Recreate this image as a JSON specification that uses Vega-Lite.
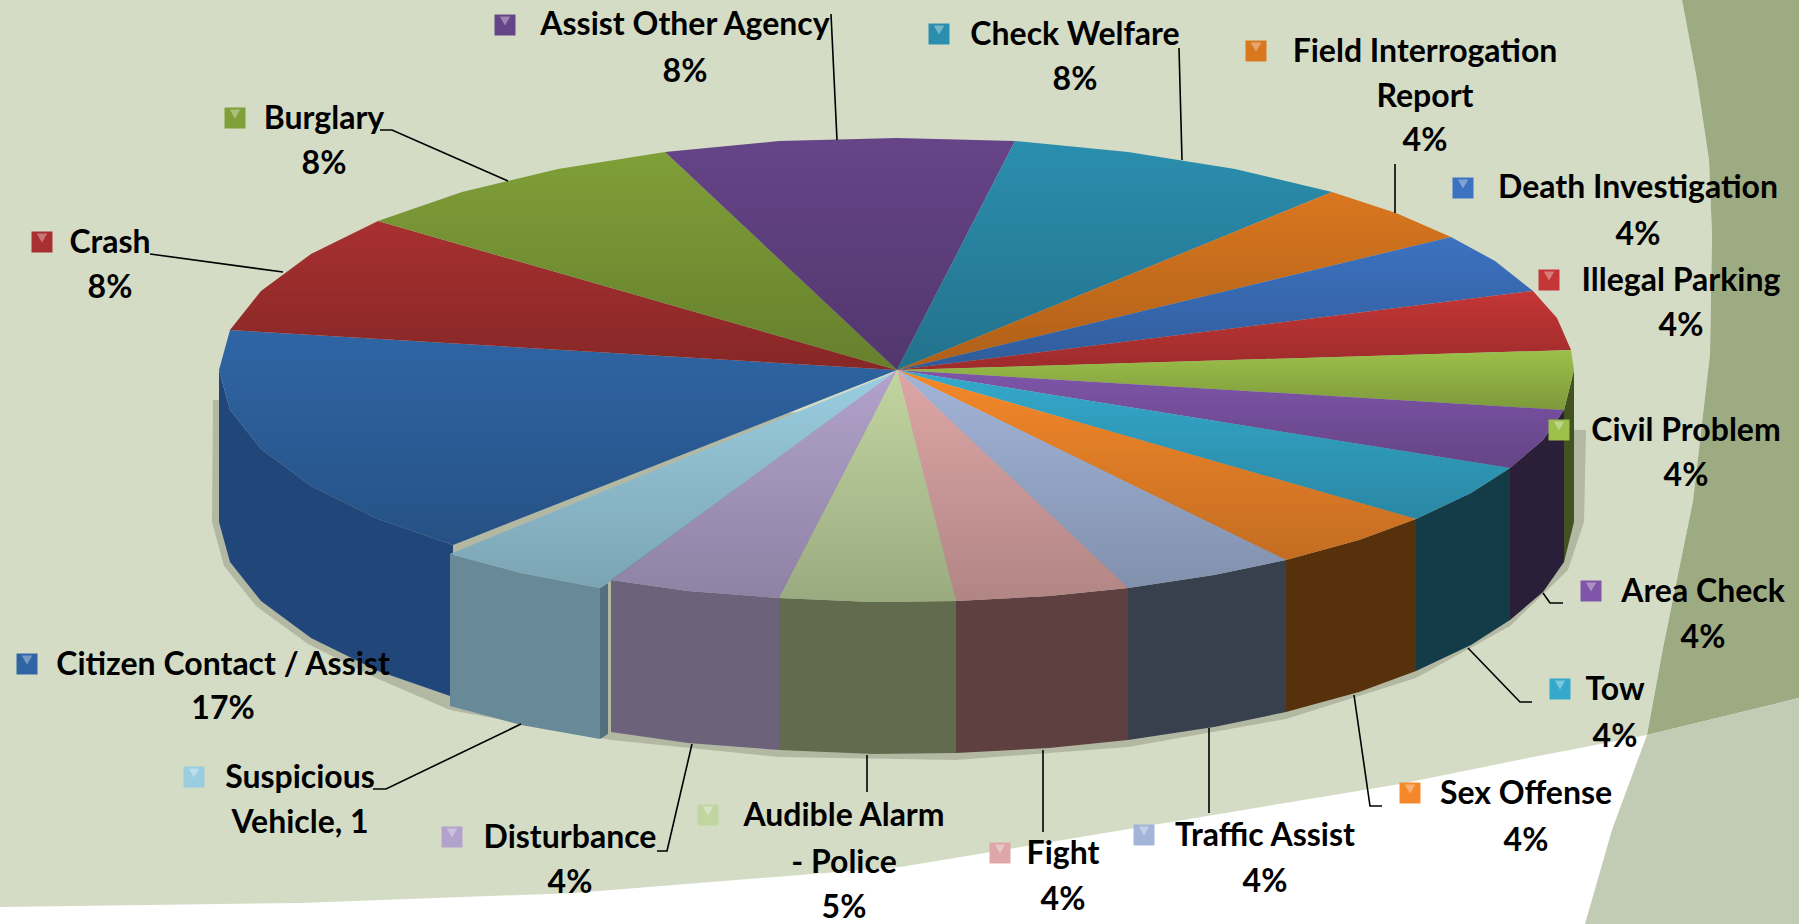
{"$schema":"https://vega.github.io/schema/vega-lite/v6.json","width":1813,"height":924,"padding":0,"autosize":{"type":"none"},"background":"#ffffff","view":{"stroke":null},
"datasets":{
"backdrop":[
{"part":"panel","i":0,"x":0,"y":0},{"part":"panel","i":1,"x":1682,"y":0},{"part":"panel","i":2,"x":1697,"y":80},{"part":"panel","i":3,"x":1709,"y":160},{"part":"panel","i":4,"x":1712,"y":236},{"part":"panel","i":5,"x":1710,"y":354},{"part":"panel","i":6,"x":1693,"y":501},{"part":"panel","i":7,"x":1663,"y":648},{"part":"panel","i":8,"x":1647,"y":735},{"part":"panel","i":9,"x":1533,"y":757},{"part":"panel","i":10,"x":1400,"y":784},{"part":"panel","i":11,"x":900,"y":867},{"part":"panel","i":12,"x":574,"y":893},{"part":"panel","i":13,"x":300,"y":903},{"part":"panel","i":14,"x":0,"y":907},
{"part":"dark","i":0,"x":1682,"y":0},{"part":"dark","i":1,"x":1799,"y":0},{"part":"dark","i":2,"x":1799,"y":698},{"part":"dark","i":3,"x":1647,"y":735},{"part":"dark","i":4,"x":1663,"y":648},{"part":"dark","i":5,"x":1693,"y":501},{"part":"dark","i":6,"x":1710,"y":354},{"part":"dark","i":7,"x":1712,"y":236},{"part":"dark","i":8,"x":1709,"y":160},{"part":"dark","i":9,"x":1697,"y":80},
{"part":"light","i":0,"x":1647,"y":735},{"part":"light","i":1,"x":1799,"y":698},{"part":"light","i":2,"x":1799,"y":924},{"part":"light","i":3,"x":1585,"y":924},{"part":"light","i":4,"x":1612,"y":830},
{"part":"shadow","i":0,"x":213,"y":400},{"part":"shadow","i":1,"x":212,"y":522},{"part":"shadow","i":2,"x":224,"y":566},{"part":"shadow","i":3,"x":256,"y":606},{"part":"shadow","i":4,"x":308,"y":644},{"part":"shadow","i":5,"x":376,"y":678},{"part":"shadow","i":6,"x":450,"y":710},{"part":"shadow","i":7,"x":611,"y":740},{"part":"shadow","i":8,"x":779,"y":757},{"part":"shadow","i":9,"x":956,"y":760},{"part":"shadow","i":10,"x":1128,"y":747},{"part":"shadow","i":11,"x":1286,"y":719},{"part":"shadow","i":12,"x":1416,"y":678},{"part":"shadow","i":13,"x":1510,"y":626},{"part":"shadow","i":14,"x":1568,"y":570},{"part":"shadow","i":15,"x":1584,"y":522},{"part":"shadow","i":16,"x":1586,"y":430}
],
"sides":[
{"part":"Civil Problem side","i":0,"x":1574,"y":370},{"part":"Civil Problem side","i":1,"x":1564,"y":410},{"part":"Civil Problem side","i":2,"x":1564,"y":562},{"part":"Civil Problem side","i":3,"x":1574,"y":522},
{"part":"Area Check side","i":0,"x":1564,"y":410},{"part":"Area Check side","i":1,"x":1543,"y":440},{"part":"Area Check side","i":2,"x":1510,"y":468},{"part":"Area Check side","i":3,"x":1510,"y":620},{"part":"Area Check side","i":4,"x":1543,"y":592},{"part":"Area Check side","i":5,"x":1564,"y":562},
{"part":"Tow side","i":0,"x":1510,"y":468},{"part":"Tow side","i":1,"x":1471,"y":493},{"part":"Tow side","i":2,"x":1416,"y":519},{"part":"Tow side","i":3,"x":1416,"y":671},{"part":"Tow side","i":4,"x":1471,"y":645},{"part":"Tow side","i":5,"x":1510,"y":620},
{"part":"Sex Offense side","i":0,"x":1416,"y":519},{"part":"Sex Offense side","i":1,"x":1359,"y":540},{"part":"Sex Offense side","i":2,"x":1286,"y":560},{"part":"Sex Offense side","i":3,"x":1286,"y":712},{"part":"Sex Offense side","i":4,"x":1359,"y":692},{"part":"Sex Offense side","i":5,"x":1416,"y":671},
{"part":"Traffic Assist side","i":0,"x":1286,"y":560},{"part":"Traffic Assist side","i":1,"x":1214,"y":575},{"part":"Traffic Assist side","i":2,"x":1128,"y":588},{"part":"Traffic Assist side","i":3,"x":1128,"y":740},{"part":"Traffic Assist side","i":4,"x":1214,"y":727},{"part":"Traffic Assist side","i":5,"x":1286,"y":712},
{"part":"Fight side","i":0,"x":1128,"y":588},{"part":"Fight side","i":1,"x":1049,"y":596},{"part":"Fight side","i":2,"x":956,"y":601},{"part":"Fight side","i":3,"x":956,"y":753},{"part":"Fight side","i":4,"x":1049,"y":748},{"part":"Fight side","i":5,"x":1128,"y":740},
{"part":"Audible Alarm side","i":0,"x":956,"y":601},{"part":"Audible Alarm side","i":1,"x":873,"y":602},{"part":"Audible Alarm side","i":2,"x":779,"y":598},{"part":"Audible Alarm side","i":3,"x":779,"y":750},{"part":"Audible Alarm side","i":4,"x":873,"y":754},{"part":"Audible Alarm side","i":5,"x":956,"y":753},
{"part":"Disturbance side","i":0,"x":779,"y":598},{"part":"Disturbance side","i":1,"x":688,"y":591},{"part":"Disturbance side","i":2,"x":611,"y":580},{"part":"Disturbance side","i":3,"x":611,"y":732},{"part":"Disturbance side","i":4,"x":688,"y":743},{"part":"Disturbance side","i":5,"x":779,"y":750},
{"part":"Citizen Contact side","i":0,"x":453,"y":545},{"part":"Citizen Contact side","i":1,"x":378,"y":519},{"part":"Citizen Contact side","i":2,"x":311,"y":486},{"part":"Citizen Contact side","i":3,"x":261,"y":449},{"part":"Citizen Contact side","i":4,"x":230,"y":410},{"part":"Citizen Contact side","i":5,"x":219,"y":370},{"part":"Citizen Contact side","i":6,"x":219,"y":522},{"part":"Citizen Contact side","i":7,"x":230,"y":562},{"part":"Citizen Contact side","i":8,"x":261,"y":601},{"part":"Citizen Contact side","i":9,"x":311,"y":638},{"part":"Citizen Contact side","i":10,"x":378,"y":671},{"part":"Citizen Contact side","i":11,"x":453,"y":697}
],
"tops":[
{"part":"Citizen Contact","i":0,"x":897,"y":370},{"part":"Citizen Contact","i":1,"x":453,"y":545},{"part":"Citizen Contact","i":2,"x":378,"y":519},{"part":"Citizen Contact","i":3,"x":311,"y":486},{"part":"Citizen Contact","i":4,"x":261,"y":449},{"part":"Citizen Contact","i":5,"x":230,"y":410},{"part":"Citizen Contact","i":6,"x":219,"y":370},{"part":"Citizen Contact","i":7,"x":230,"y":330},
{"part":"Crash","i":0,"x":897,"y":370},{"part":"Crash","i":1,"x":230,"y":330},{"part":"Crash","i":2,"x":261,"y":291},{"part":"Crash","i":3,"x":311,"y":254},{"part":"Crash","i":4,"x":378,"y":221},
{"part":"Burglary","i":0,"x":897,"y":370},{"part":"Burglary","i":1,"x":378,"y":221},{"part":"Burglary","i":2,"x":462,"y":192},{"part":"Burglary","i":3,"x":558,"y":169},{"part":"Burglary","i":4,"x":665,"y":152},
{"part":"Assist Other Agency","i":0,"x":897,"y":370},{"part":"Assist Other Agency","i":1,"x":665,"y":152},{"part":"Assist Other Agency","i":2,"x":779,"y":141},{"part":"Assist Other Agency","i":3,"x":897,"y":138},{"part":"Assist Other Agency","i":4,"x":1015,"y":141},
{"part":"Check Welfare","i":0,"x":897,"y":370},{"part":"Check Welfare","i":1,"x":1015,"y":141},{"part":"Check Welfare","i":2,"x":1128,"y":152},{"part":"Check Welfare","i":3,"x":1235,"y":169},{"part":"Check Welfare","i":4,"x":1332,"y":192},
{"part":"Field Interrogation","i":0,"x":897,"y":370},{"part":"Field Interrogation","i":1,"x":1332,"y":192},{"part":"Field Interrogation","i":2,"x":1396,"y":213},{"part":"Field Interrogation","i":3,"x":1451,"y":237},
{"part":"Death Investigation","i":0,"x":897,"y":370},{"part":"Death Investigation","i":1,"x":1451,"y":237},{"part":"Death Investigation","i":2,"x":1495,"y":261},{"part":"Death Investigation","i":3,"x":1533,"y":291},
{"part":"Illegal Parking","i":0,"x":897,"y":370},{"part":"Illegal Parking","i":1,"x":1533,"y":291},{"part":"Illegal Parking","i":2,"x":1557,"y":318},{"part":"Illegal Parking","i":3,"x":1571,"y":350},
{"part":"Civil Problem","i":0,"x":897,"y":370},{"part":"Civil Problem","i":1,"x":1571,"y":350},{"part":"Civil Problem","i":2,"x":1574,"y":370},{"part":"Civil Problem","i":3,"x":1564,"y":410},
{"part":"Area Check","i":0,"x":897,"y":370},{"part":"Area Check","i":1,"x":1564,"y":410},{"part":"Area Check","i":2,"x":1543,"y":440},{"part":"Area Check","i":3,"x":1510,"y":468},
{"part":"Tow","i":0,"x":897,"y":370},{"part":"Tow","i":1,"x":1510,"y":468},{"part":"Tow","i":2,"x":1471,"y":493},{"part":"Tow","i":3,"x":1416,"y":519},
{"part":"Sex Offense","i":0,"x":897,"y":370},{"part":"Sex Offense","i":1,"x":1416,"y":519},{"part":"Sex Offense","i":2,"x":1359,"y":540},{"part":"Sex Offense","i":3,"x":1286,"y":560},
{"part":"Traffic Assist","i":0,"x":897,"y":370},{"part":"Traffic Assist","i":1,"x":1286,"y":560},{"part":"Traffic Assist","i":2,"x":1214,"y":575},{"part":"Traffic Assist","i":3,"x":1128,"y":588},
{"part":"Fight","i":0,"x":897,"y":370},{"part":"Fight","i":1,"x":1128,"y":588},{"part":"Fight","i":2,"x":1049,"y":596},{"part":"Fight","i":3,"x":956,"y":601},
{"part":"Audible Alarm","i":0,"x":897,"y":370},{"part":"Audible Alarm","i":1,"x":956,"y":601},{"part":"Audible Alarm","i":2,"x":873,"y":602},{"part":"Audible Alarm","i":3,"x":779,"y":598},
{"part":"Disturbance","i":0,"x":897,"y":370},{"part":"Disturbance","i":1,"x":779,"y":598},{"part":"Disturbance","i":2,"x":688,"y":591},{"part":"Disturbance","i":3,"x":611,"y":580},
{"part":"Suspicious Vehicle side","i":0,"x":450,"y":554},{"part":"Suspicious Vehicle side","i":1,"x":521,"y":573},{"part":"Suspicious Vehicle side","i":2,"x":600,"y":588},{"part":"Suspicious Vehicle side","i":3,"x":600,"y":739},{"part":"Suspicious Vehicle side","i":4,"x":521,"y":725},{"part":"Suspicious Vehicle side","i":5,"x":450,"y":706},
{"part":"Suspicious Vehicle end","i":0,"x":600,"y":588},{"part":"Suspicious Vehicle end","i":1,"x":608,"y":583},{"part":"Suspicious Vehicle end","i":2,"x":608,"y":734},{"part":"Suspicious Vehicle end","i":3,"x":600,"y":739},
{"part":"Suspicious Vehicle","i":0,"x":893,"y":373},{"part":"Suspicious Vehicle","i":1,"x":608,"y":583},{"part":"Suspicious Vehicle","i":2,"x":600,"y":588},{"part":"Suspicious Vehicle","i":3,"x":521,"y":573},{"part":"Suspicious Vehicle","i":4,"x":450,"y":554}
],
"leaders":[
{"to":"Burglary","i":0,"x":380,"y":130},{"to":"Burglary","i":1,"x":392,"y":130},{"to":"Burglary","i":2,"x":508,"y":181},
{"to":"Crash","i":0,"x":150,"y":254},{"to":"Crash","i":1,"x":283,"y":272},
{"to":"Assist Other Agency","i":0,"x":831,"y":14},{"to":"Assist Other Agency","i":1,"x":837,"y":140},
{"to":"Check Welfare","i":0,"x":1179,"y":48},{"to":"Check Welfare","i":1,"x":1182,"y":160},
{"to":"Field Interrogation","i":0,"x":1395,"y":164},{"to":"Field Interrogation","i":1,"x":1395,"y":213},
{"to":"Area Check","i":0,"x":1543,"y":593},{"to":"Area Check","i":1,"x":1550,"y":603},{"to":"Area Check","i":2,"x":1563,"y":603},
{"to":"Tow","i":0,"x":1468,"y":648},{"to":"Tow","i":1,"x":1520,"y":702},{"to":"Tow","i":2,"x":1532,"y":702},
{"to":"Sex Offense","i":0,"x":1354,"y":695},{"to":"Sex Offense","i":1,"x":1370,"y":806},{"to":"Sex Offense","i":2,"x":1382,"y":806},
{"to":"Traffic Assist","i":0,"x":1209,"y":728},{"to":"Traffic Assist","i":1,"x":1209,"y":813},
{"to":"Fight","i":0,"x":1043,"y":750},{"to":"Fight","i":1,"x":1043,"y":832},
{"to":"Audible Alarm","i":0,"x":867,"y":755},{"to":"Audible Alarm","i":1,"x":867,"y":792},
{"to":"Disturbance","i":0,"x":692,"y":744},{"to":"Disturbance","i":1,"x":667,"y":851},{"to":"Disturbance","i":2,"x":657,"y":851},
{"to":"Suspicious","i":0,"x":521,"y":724},{"to":"Suspicious","i":1,"x":386,"y":789},{"to":"Suspicious","i":2,"x":373,"y":789}
],
"keys":[
{"part":"Assist Other Agency","x":505,"y":25},{"part":"Check Welfare","x":939,"y":34},{"part":"Field Interrogation","x":1256,"y":51},{"part":"Death Investigation","x":1463,"y":188},{"part":"Illegal Parking","x":1549,"y":280},{"part":"Civil Problem","x":1559,"y":430},{"part":"Area Check","x":1591,"y":591},{"part":"Tow","x":1560,"y":689},{"part":"Sex Offense","x":1410,"y":793},{"part":"Traffic Assist","x":1144,"y":835},{"part":"Fight","x":1000,"y":853},{"part":"Audible Alarm","x":708,"y":815},{"part":"Disturbance","x":452,"y":837},{"part":"Suspicious Vehicle","x":194,"y":777},{"part":"Citizen Contact","x":27,"y":664},{"part":"Crash","x":42,"y":242},{"part":"Burglary","x":235,"y":118}
],
"labels":[
{"t":"Assist Other Agency","x":685,"y":25},{"t":"8%","x":685,"y":72},
{"t":"Check Welfare","x":1075,"y":35},{"t":"8%","x":1075,"y":80},
{"t":"Field Interrogation","x":1425,"y":52},{"t":"Report","x":1425,"y":97},{"t":"4%","x":1425,"y":141},
{"t":"Death Investigation","x":1638,"y":188},{"t":"4%","x":1638,"y":235},
{"t":"Illegal Parking","x":1681,"y":281},{"t":"4%","x":1681,"y":326},
{"t":"Civil Problem","x":1686,"y":431},{"t":"4%","x":1686,"y":476},
{"t":"Area Check","x":1703,"y":592},{"t":"4%","x":1703,"y":638},
{"t":"Tow","x":1615,"y":690},{"t":"4%","x":1615,"y":737},
{"t":"Sex Offense","x":1526,"y":794},{"t":"4%","x":1526,"y":841},
{"t":"Traffic Assist","x":1265,"y":836},{"t":"4%","x":1265,"y":882},
{"t":"Fight","x":1063,"y":854},{"t":"4%","x":1063,"y":900},
{"t":"Audible Alarm","x":844,"y":816},{"t":"- Police","x":844,"y":863},{"t":"5%","x":844,"y":908},
{"t":"Disturbance","x":570,"y":838},{"t":"4%","x":570,"y":883},
{"t":"Suspicious","x":300,"y":778},{"t":"Vehicle, 1","x":300,"y":823},
{"t":"Citizen Contact / Assist","x":223,"y":665},{"t":"17%","x":223,"y":709},
{"t":"Crash","x":110,"y":243},{"t":"8%","x":110,"y":288},
{"t":"Burglary","x":324,"y":119},{"t":"8%","x":324,"y":164}
]},
"encoding":{
"x":{"field":"x","type":"quantitative","axis":null,"scale":{"domain":[0,1813],"nice":false,"zero":false}},
"y":{"field":"y","type":"quantitative","axis":null,"scale":{"domain":[0,924],"reverse":true,"nice":false,"zero":false}}
},
"layer":[
{"data":{"name":"backdrop"},"mark":{"type":"line","filled":true},"encoding":{"order":{"field":"i","type":"ordinal"},"color":{"field":"part","type":"nominal","legend":null,"scale":{"domain":["panel","dark","light","shadow","Citizen Contact","Crash","Burglary","Assist Other Agency","Check Welfare","Field Interrogation","Death Investigation","Illegal Parking","Civil Problem","Area Check","Tow","Sex Offense","Traffic Assist","Fight","Audible Alarm","Disturbance","Suspicious Vehicle","Citizen Contact side","Civil Problem side","Area Check side","Tow side","Sex Offense side","Traffic Assist side","Fight side","Audible Alarm side","Disturbance side","Suspicious Vehicle side","Suspicious Vehicle end"],"range":["#d4dcc6","#9dab83","#c2cbb3","#b3b8a3","#2f65a5","#a83030","#7f9f38","#664488","#2b8eae","#d9771f","#3c72c0","#c43636","#9cc04a","#7e55a8","#34a9cc","#f4882a","#a2b4d8","#dea6a6","#c1d5a0","#b2a2cc","#9acde0","#21477a","#435221","#2a1e38","#143c48","#57300c","#383f4d","#5e4040","#636b4f","#6c627a","#688a98","#536f7e"]}}}},
{"data":{"name":"sides"},"mark":{"type":"line","filled":true},"encoding":{"order":{"field":"i","type":"ordinal"},"color":{"field":"part","type":"nominal","legend":null}}},
{"data":{"name":"tops"},"mark":{"type":"line","filled":true},"encoding":{"order":{"field":"i","type":"ordinal"},"color":{"field":"part","type":"nominal","legend":null}}},
{"data":{"name":"tops"},"transform":[{"filter":"indexof(datum.part,'side')<0 && indexof(datum.part,'end')<0"}],"mark":{"type":"line","filled":true,"stroke":null,"fill":{"gradient":"linear","x1":0,"y1":0,"x2":0,"y2":1,"stops":[{"offset":0,"color":"rgba(0,0,0,0)"},{"offset":1,"color":"rgba(0,0,0,0.2)"}]}},"encoding":{"order":{"field":"i","type":"ordinal"},"detail":{"field":"part","type":"nominal"}}},
{"data":{"name":"leaders"},"mark":{"type":"line","stroke":"#000000","strokeWidth":1.6},"encoding":{"order":{"field":"i","type":"ordinal"},"detail":{"field":"to","type":"nominal"}}},
{"data":{"name":"keys"},"mark":{"type":"point","shape":"square","filled":true,"size":440,"opacity":1},"encoding":{"color":{"field":"part","type":"nominal","legend":null}}},
{"data":{"name":"keys"},"mark":{"type":"point","shape":"triangle-down","filled":true,"size":110,"color":"#ffffff","opacity":0.35,"yOffset":-4}},
{"data":{"name":"labels"},"mark":{"type":"text","font":"Lato","fontWeight":"bold","fontSize":32,"color":"#000000","align":"center","baseline":"middle"},"encoding":{"text":{"field":"t","type":"nominal"}}}
]}
